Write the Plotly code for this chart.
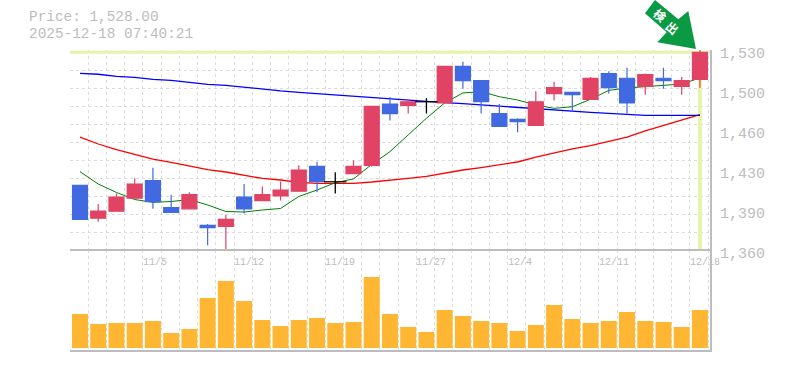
import plotly.graph_objects as go

W, H = 785, 370
dates = ["10/29","10/30","10/31","11/4","11/5","11/6","11/7","11/10","11/11","11/12","11/13","11/14","11/17","11/18","11/19",
         "11/20","11/21","11/25","11/26","11/27","11/28","12/1","12/2","12/3","12/4","12/5","12/8","12/9","12/10","12/11",
         "12/12","12/15","12/16","12/17","12/18"]
date_labels = ["11/5","11/12","11/19","11/27","12/4","12/11","12/18"]
opens  = [1415,1387,1393,1404,1419,1396,1395,1381,1380,1405,1402,1406,1410,1431,1418,1425,1432,1484,1483,1486,1485,1516,1504,1476,1471,1466,1493,1494,1488,1510,1506,1499,1506,1499,1505]
highs  = [1415,1399,1408,1421,1430,1407,1409,1382,1390,1416,1414,1418,1432,1435,1426,1436,1482,1490,1488,1489,1516,1520,1504,1484,1472,1495,1503,1494,1507,1512,1515,1510,1515,1507,1530]
lows   = [1386,1384,1393,1404,1395,1392,1395,1364,1360,1391,1402,1402,1410,1409,1408,1425,1431,1470,1476,1476,1485,1497,1476,1465,1460,1466,1487,1478,1488,1493,1476,1492,1497,1492,1498]
closes = [1386,1393,1405,1416,1401,1392,1407,1379,1386,1395,1407,1411,1428,1418,1418,1431,1482,1476,1486,1486,1516,1504,1486,1465,1469,1486,1498,1492,1506,1498,1485,1509,1504,1504,1528]
ma_blue = [1510.2,1509.4,1507.6,1506.8,1505.1,1504.2,1502.5,1500.8,1500,1498.3,1496.9,1495.2,1494,1492.9,1491.8,1490.3,1489.2,1488.4,1487.5,1486,1485.2,1484.4,1483.3,1482.1,1481.3,1479.9,1478.7,1477.9,1477,1476.2,1475.3,1474.5,1474.5,1474.5,1474.5]
ma_red = [1456,1450.1,1445.4,1441.2,1437.3,1434.4,1431.4,1428.4,1426.3,1423.3,1420.8,1419.5,1417.4,1416.7,1416.5,1416.7,1417.8,1419.1,1420.8,1422.5,1425.5,1428,1430.1,1432.3,1434.8,1439,1442.5,1445.9,1448.8,1452.2,1456,1461.2,1465.8,1470.5,1475]
ma_green = [1426.6,1416.1,1408.9,1402.9,1400.5,1401.2,1402.9,1398.3,1392.7,1392.3,1394,1395.3,1405.5,1411,1417.2,1420.4,1432.8,1443.6,1457.8,1472,1485,1493.5,1494.6,1490.3,1487.5,1483.3,1480.4,1481.8,1488.1,1495.7,1497.7,1499,1500.3,1501.1,1506.2]
volumes = [34,24,25,25,27,15,19,50,67,47,28,22,28,30,25,26,71,34,21,16,38,32,27,25,17,23,43,29,25,27,36,27,26,21,38]
y_tick_vals = [1360,1394,1428,1462,1496,1530]
y_tick_text = ["1,360","1,390","1,430","1,460","1,500","1,530"]
header = ["Price: 1,528.00","2025-12-18 07:40:21"]
badge = ["検","出"]
last_price = 1528

GREY = "#bdbdbd"
GRID = "#dcdcdc"
HILITE = "#e4f4a8"
RED = "#e04363"
BLUE = "#4169e1"
MONO = "Liberation Mono, DejaVu Sans Mono, monospace"
ML, MR, MT, MB = 70, 75, 50, 20
PW, PH = W - ML - MR, H - MT - MB
XR = [-0.548, 34.552]
YR = [1360, 1530]
px_x = lambda x: (x - ML) / PW
px_y = lambda y: 1 - (y - MT) / PH

idx = list(range(len(dates)))
is_doji = [o == c for o, c in zip(opens, closes)]
fig = go.Figure()

fig.add_trace(go.Scatter(x=XR, y=[last_price, last_price], mode="lines", line=dict(color=HILITE, width=3), yaxis="y", hoverinfo="skip"))
fig.add_trace(go.Scatter(x=[idx[-1], idx[-1]], y=[YR[0], last_price], mode="lines", line=dict(color=HILITE, width=4), yaxis="y", hoverinfo="skip"))
for name, vals, col, lw in [("MA25", ma_red, "#ff0000", 1.3), ("MA75", ma_blue, "#0000ff", 1.3), ("MA5", ma_green, "#008000", 1.0)]:
    fig.add_trace(go.Scatter(x=idx, y=vals, mode="lines", name=name, line=dict(color=col, width=lw), yaxis="y", hoverinfo="skip"))

fig.add_trace(go.Candlestick(
    x=[i for i in idx if not is_doji[i]],
    open=[opens[i] for i in idx if not is_doji[i]],
    high=[highs[i] for i in idx if not is_doji[i]],
    low=[lows[i] for i in idx if not is_doji[i]],
    close=[closes[i] for i in idx if not is_doji[i]],
    yaxis="y3", whiskerwidth=0,
    increasing=dict(line=dict(color=RED, width=1.2), fillcolor=RED),
    decreasing=dict(line=dict(color=BLUE, width=1.2), fillcolor=BLUE),
))
fig.add_trace(go.Scatter(
    x=[i for i in idx if is_doji[i]],
    y=[closes[i] for i in idx if is_doji[i]],
    mode="markers", yaxis="y3",
    marker=dict(symbol="line-ew", size=16, line=dict(color="#000000", width=1.2)),
    error_y=dict(type="data", symmetric=False,
                 array=[highs[i] - closes[i] for i in idx if is_doji[i]],
                 arrayminus=[closes[i] - lows[i] for i in idx if is_doji[i]],
                 color="#000000", thickness=1.3, width=0),
))
fig.add_trace(go.Bar(x=idx, y=volumes, yaxis="y2", width=0.877, marker=dict(color="#ffb733", line=dict(width=0))))

annotations = [dict(text=t, xref="paper", yref="paper", x=px_x(26.5), y=px_y(y), xanchor="left", yanchor="middle",
                    showarrow=False, font=dict(family=MONO, size=14.4, color=GREY)) for t, y in zip(header, [17, 33.5])]
for lab in date_labels:
    annotations.append(dict(text=lab, x=dates.index(lab), xref="x", y=1, yref="y2 domain", yshift=-12, xshift=-12, xanchor="left",
                            yanchor="middle", showarrow=False, font=dict(family=MONO, size=10, color=GREY)))
for ch, (cx, cy) in zip(badge, [(660, 15), (673, 27)]):
    annotations.append(dict(text=ch, xref="paper", yref="paper", x=px_x(cx), y=px_y(cy), xanchor="center", yanchor="middle",
                            showarrow=False, textangle=40, font=dict(family="Noto Sans CJK JP", size=12, color="#ffffff", weight="bold")))

arrow_pts = [(645, 13.3), (655, 0), (678.3, 19.3), (688.3, 11), (696, 49), (657.3, 42.3), (666.7, 32.3)]
arrow_path = "M " + " L ".join(f"{px_x(a):.4f} {px_y(b):.4f}" for a, b in arrow_pts) + " Z"

shapes = [
    dict(type="line", xref="x domain", yref="y domain", x0=0, x1=1, y0=0, y1=0, line=dict(color=GREY, width=2)),
    dict(type="path", xref="paper", yref="paper", path=arrow_path, fillcolor="#0a9a44", line=dict(width=0)),
]

fig.update_layout(
    width=W, height=H, margin=dict(l=ML, r=MR, t=MT, b=MB, autoexpand=False), autosize=False,
    paper_bgcolor="#ffffff", plot_bgcolor="#ffffff", showlegend=False, hovermode=False,
    boxgap=0.18, boxgroupgap=0, annotations=annotations, shapes=shapes,
    xaxis=dict(type="linear", range=XR, anchor="y2", tick0=XR[0], dtick=1, tickmode="linear",
               showgrid=True, gridcolor=GRID, griddash="3px,3px", gridwidth=1, zeroline=False,
               showticklabels=False, ticks="", showline=True, linecolor=GREY, linewidth=2, rangeslider=dict(visible=False)),
    yaxis=dict(domain=[100 / PH, 1], range=YR, side="right", anchor="x", tickmode="array", tickvals=y_tick_vals, ticktext=y_tick_text,
               showgrid=False, zeroline=False, showline=True, linecolor=GREY, linewidth=2, ticks="",
               tickfont=dict(family=MONO, size=15, color=GREY), ticklabelshift=3, ticklabelstandoff=5,
               minor=dict(tickmode="linear", tick0=1360, dtick=15.27, showgrid=True, gridcolor=GRID, griddash="3px,3px", gridwidth=1, ticks="")),
    yaxis2=dict(domain=[0, 100 / PH], range=[-2, 98], side="right", anchor="x", showgrid=False, zeroline=False,
                showticklabels=False, ticks="", showline=True, linecolor=GREY, linewidth=2),
    yaxis3=dict(overlaying="y", side="right", range=YR, showgrid=False, zeroline=False, showticklabels=False, ticks="", showline=False, anchor="x"),
)
fig.write_html("out.html", config={"displayModeBar": False},
               post_script="document.body.style.margin='0';document.body.style.overflow='hidden';")
